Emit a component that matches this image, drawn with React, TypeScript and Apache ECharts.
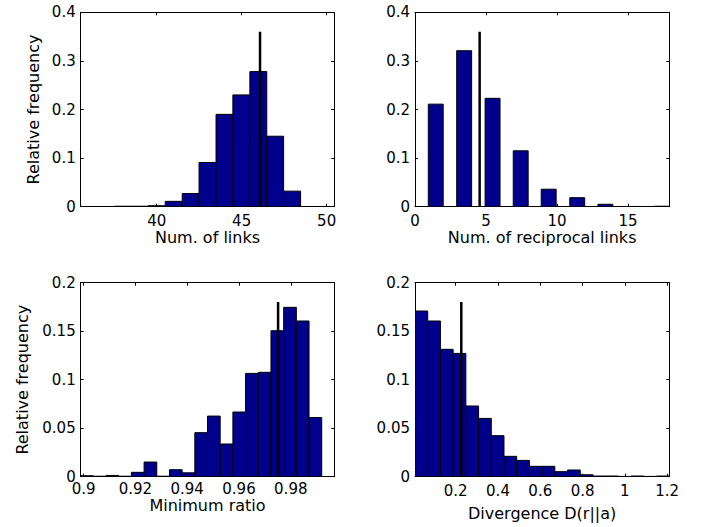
import React, { useEffect, useRef } from "react";
import * as echarts from "echarts";

// Panel 1: number of links
const linksCenters = [36.03, 37.02, 38.02, 39.01, 40.01, 41.0, 42.0, 42.99, 43.99, 44.98, 45.98, 46.97, 47.97, 48.96, 49.96];
const linksFreq = [0, 0, 0.001, 0.001, 0.002, 0.011, 0.027, 0.091, 0.19, 0.23, 0.278, 0.145, 0.032, 0, 0];
const linksBinWidth = 0.995;
const linksMarker = [46.08, 0.36];
const linksTicks = [40, 45, 50];
const linksRange = [35.53, 50.45];

// Panel 2: number of reciprocal links
const recipCenters = [-0.53, 1.46, 3.46, 5.46, 7.44, 9.41, 11.42, 13.4, 15.39, 17.37];
const recipFreq = [0.078, 0.211, 0.321, 0.223, 0.115, 0.036, 0.0186, 0.005, 0.0005, 0.001];
const recipBinWidth = 1.05;
const recipMarker = [4.55, 0.36];
const recipTicks = [0, 5, 10, 15];
const recipRange = [0, 17.9];

// Panel 3: minimum ratio
const ratioCenters = [0.90135, 0.90624, 0.91114, 0.91603, 0.92093, 0.92582, 0.93072, 0.93561, 0.94051, 0.9454, 0.9503, 0.9552, 0.9601, 0.965, 0.9699, 0.9748, 0.9797, 0.9846, 0.9895, 0.9943];
const ratioFreq = [0.001, 0.0005, 0.0013, 0.0005, 0.0045, 0.0151, 0.0005, 0.0072, 0.004, 0.0454, 0.0625, 0.0337, 0.0667, 0.1065, 0.1076, 0.1505, 0.1746, 0.1605, 0.061, 0];
const ratioBinWidth = 0.004895;
const ratioMarker = [0.9751, 0.18];
const ratioTicks = [0.9, 0.92, 0.94, 0.96, 0.98];
const ratioRange = [0.8989, 0.9968];

// Panel 4: divergence
const divCenters = [0.0377, 0.0978, 0.1579, 0.218, 0.2781, 0.3382, 0.3983, 0.4584, 0.5185, 0.5786, 0.6387, 0.6988, 0.7589, 0.819, 0.8791, 0.9392, 0.9993, 1.0594, 1.1195, 1.1796];
const divFreq = [0.1708, 0.1605, 0.1313, 0.1271, 0.0729, 0.0601, 0.0423, 0.021, 0.0168, 0.0107, 0.0107, 0.0052, 0.0069, 0.002, 0.0007, 0.0007, 0.0003, 0.0007, 0.0003, 0.0007];
const divBinWidth = 0.0601;
const divMarker = [0.2265, 0.18];
const divTicks = [0.2, 0.4, 0.6, 0.8, 1, 1.2];
const divRange = [0.0076, 1.21];

const yTopRange = [0, 0.4];
const yTopInterval = 0.1;
const yBottomRange = [0, 0.2];
const yBottomInterval = 0.05;

const xTitles = ["Num. of links", "Num. of reciprocal links", "Minimum ratio", "Divergence D(r||a)"];
const yTitle = "Relative frequency";

const BAR = "#00008C";
const FONT = "DejaVu Sans";

export default function App() {
  const ref = useRef<HTMLDivElement>(null);
  useEffect(() => {
    if (!ref.current) return;
    const chart = echarts.init(ref.current, null, { renderer: "svg", width: 711, height: 527 });

    const panels = [
      { centers: linksCenters, freq: linksFreq, w: linksBinWidth, marker: linksMarker, ticks: linksTicks, xr: linksRange, yr: yTopRange, yi: yTopInterval, grid: { left: 80.7, top: 12.3, width: 253.6, height: 194.4 }, nameGap: 23, labelMargin: 8, yName: yTitle, yGap: 40 },
      { centers: recipCenters, freq: recipFreq, w: recipBinWidth, marker: recipMarker, ticks: recipTicks, xr: recipRange, yr: yTopRange, yi: yTopInterval, grid: { left: 415, top: 12.3, width: 254.3, height: 194.4 }, nameGap: 23, labelMargin: 8, yName: "", yGap: 0 },
      { centers: ratioCenters, freq: ratioFreq, w: ratioBinWidth, marker: ratioMarker, ticks: ratioTicks, xr: ratioRange, yr: yBottomRange, yi: yBottomInterval, grid: { left: 80.7, top: 282.7, width: 253.6, height: 194 }, nameGap: 21, labelMargin: 6, yName: yTitle, yGap: 51 },
      { centers: divCenters, freq: divFreq, w: divBinWidth, marker: divMarker, ticks: divTicks, xr: divRange, yr: yBottomRange, yi: yBottomInterval, grid: { left: 415, top: 282.7, width: 254.3, height: 194 }, nameGap: 29, labelMargin: 8, yName: "", yGap: 0 },
    ];

    const axisLine = { show: true, onZero: false, lineStyle: { color: "#000", width: 1 } };
    const tick = { show: true, inside: true, length: 3, lineStyle: { color: "#000", width: 1 } };
    const label = { color: "#000", fontSize: 15, lineHeight: 13, fontFamily: FONT };
    const nameStyle = { color: "#000", fontSize: 16, lineHeight: 15, fontFamily: FONT };

    const grid: any[] = [];
    const xAxis: any[] = [];
    const yAxis: any[] = [];
    const series: any[] = [];

    panels.forEach((p, i) => {
      grid.push({ ...p.grid, containLabel: false });
      const xBottom = xAxis.length;
      xAxis.push({
        type: "value", gridIndex: i, position: "bottom", min: p.xr[0], max: p.xr[1],
        axisLine, axisTick: { ...tick, customValues: p.ticks },
        axisLabel: { ...label, margin: p.labelMargin, customValues: p.ticks },
        splitLine: { show: false },
        name: xTitles[i], nameLocation: "middle", nameGap: p.nameGap,
        nameTextStyle: nameStyle,
      });
      xAxis.push({
        type: "value", gridIndex: i, position: "top", min: p.xr[0], max: p.xr[1],
        axisLine, axisTick: { ...tick, customValues: p.ticks },
        axisLabel: { show: false, customValues: p.ticks }, splitLine: { show: false },
      });
      const yLeft = yAxis.length;
      yAxis.push({
        type: "value", gridIndex: i, position: "left", min: p.yr[0], max: p.yr[1], interval: p.yi,
        axisLine, axisTick: tick, axisLabel: { ...label, margin: 5 }, splitLine: { show: false },
        name: p.yName, nameLocation: "middle", nameGap: p.yGap, nameRotate: 90,
        nameTextStyle: nameStyle,
      });
      yAxis.push({
        type: "value", gridIndex: i, position: "right", min: p.yr[0], max: p.yr[1], interval: p.yi,
        axisLine, axisTick: tick, axisLabel: { show: false }, splitLine: { show: false },
      });
      const w = p.w;
      series.push({
        type: "custom", xAxisIndex: xBottom, yAxisIndex: yLeft, clip: true,
        data: p.centers.map((c, k) => [c, p.freq[k]]),
        encode: { x: 0, y: 1 },
        renderItem: (_params: any, api: any) => {
          const x = api.value(0);
          const y = api.value(1);
          const a = api.coord([x - w / 2, y]);
          const b = api.coord([x + w / 2, 0]);
          return {
            type: "rect",
            shape: { x: a[0], y: a[1], width: b[0] - a[0], height: b[1] - a[1] },
            style: { fill: BAR, stroke: "#000", lineWidth: 1 },
          };
        },
        z: 2,
      });
      series.push({
        type: "line", xAxisIndex: xBottom, yAxisIndex: yLeft,
        data: [[p.marker[0], 0], [p.marker[0], p.marker[1]]],
        symbol: "none", lineStyle: { color: "#000", width: 2.5 }, z: 3,
      });
    });

    chart.setOption({
      animation: false,
      backgroundColor: "#fff",
      textStyle: { fontFamily: FONT },
      grid, xAxis, yAxis, series,
    });
    return () => chart.dispose();
  }, []);
  return <div ref={ref} style={{ position: "fixed", left: 0, top: 0, width: 711, height: 527 }} />;
}
